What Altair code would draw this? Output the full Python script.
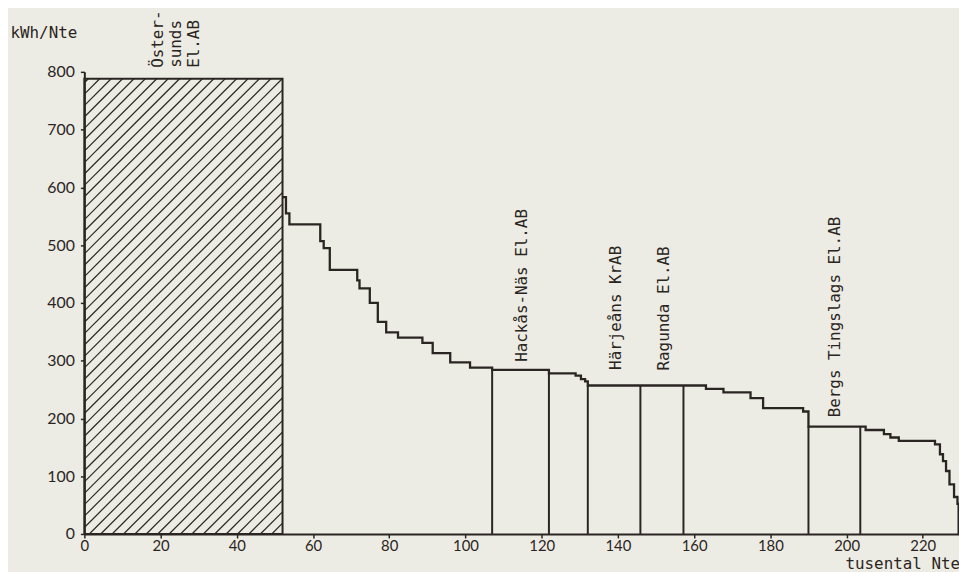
import altair as alt
import pandas as pd
import numpy as np

INK = "#2a2522"
PAPER = "#edece4"
MONO = "DejaVu Sans Mono"

# --- data ---
# Östersunds El.AB (hatched block)
bar_x0 = [0.0]
bar_x1 = [52.0]
bar_top = [788]

# step curve: start of each level (tusental Nte) and its value (kWh/Nte)
step_x = [52.0, 52.9, 53.8, 61.9, 62.8, 64.4, 71.6, 72.2, 74.9, 77.0,
          79.2, 82.3, 88.7, 91.4, 96.0, 101.2, 107.0, 121.9, 128.9, 130.3,
          131.4, 132.1, 163.1, 167.7, 174.8, 178.1, 188.6, 190.0, 205.0, 209.8,
          211.5, 213.7, 223.2, 224.5, 225.3, 226.1, 227.0, 228.2, 229.1, 229.4]
step_y = [583, 555, 536, 507, 495, 457, 439, 425, 400, 367,
          349, 340, 331, 313, 297, 288, 284, 278, 274, 268,
          264, 257, 251, 245, 235, 218, 212, 186, 180, 173,
          167, 161, 155, 138, 126, 109, 86, 64, 52, 0]

# company boundaries (vertical lines)
boundary_x = [107.0, 121.9, 132.1, 145.9, 157.2, 190.0, 203.6]

# company labels
label_text = [["Öster-", "sunds", "El.AB"], "Hackås-Näs El.AB", "Härjeåns KrAB",
              "Ragunda El.AB", "Bergs Tingslags El.AB"]
label_x = [19.3, 114.8, 139.4, 152.0, 197.1]
label_y = [807, 298, 284, 283, 202]

x_ticks = list(range(0, 221, 20))
y_ticks = list(range(0, 801, 100))

XMAX = 229.5
YMAX = 800
W = 882
H = 466

# --- tables ---
steps = pd.DataFrame({"x": step_x, "y": step_y})


def level_at(v):
    lvl = step_y[0]
    for sx, sy in zip(step_x, step_y):
        if sx <= v + 1e-9:
            lvl = sy
    return lvl


bounds = pd.DataFrame({"x": boundary_x, "y0": 0,
                       "y1": [level_at(b) for b in boundary_x]})
bar = pd.DataFrame({"x": bar_x0, "x1": bar_x1, "y0": 0, "y1": bar_top})
labels = pd.DataFrame({"x": label_x, "y": label_y, "t": label_text})

# hatch pattern for the block (45 degrees in screen space)
kx = W / XMAX
ky = H / YMAX
bw = bar_x1[0] * kx
bh = bar_top[0] * ky
segs = []
for c in np.arange(-bh + 4, bw, 11.5):
    ya = max(0.0, -c)
    yb = min(bh, bw - c)
    if yb - ya < 0.5:
        continue
    segs.append({"x": (c + ya) / kx, "x1": (c + yb) / kx,
                 "y": ya / ky, "y1": yb / ky})
hatch = pd.DataFrame(segs)

xaxis = alt.Axis(values=x_ticks, title="tusental Nte", titleAngle=0,
                 titleAlign="left", titleBaseline="alphabetic",
                 titleX=767, titleY=35, labelFlush=False, labelPadding=1,
                 labelFontSize=15)
yaxis = alt.Axis(values=y_ticks, title="kWh/Nte", titleAngle=0,
                 titleAlign="left", titleBaseline="alphabetic",
                 titleX=-75, titleY=-35, labelPadding=6)
xs = alt.Scale(domain=[0, XMAX], nice=False, zero=True)
ys = alt.Scale(domain=[0, YMAX], nice=False)

hatch_layer = alt.Chart(hatch).mark_rule(color=INK, strokeWidth=1.2).encode(
    x=alt.X("x:Q", scale=xs, axis=xaxis), x2="x1:Q",
    y=alt.Y("y:Q", scale=ys, axis=yaxis), y2="y1:Q")

bar_layer = alt.Chart(bar).mark_rect(fillOpacity=0, stroke=INK, strokeWidth=2).encode(
    x=alt.X("x:Q", scale=xs, axis=xaxis), x2="x1:Q",
    y=alt.Y("y0:Q", scale=ys, axis=yaxis), y2="y1:Q")

bound_layer = alt.Chart(bounds).mark_rule(color=INK, strokeWidth=2).encode(
    x=alt.X("x:Q", scale=xs, axis=xaxis),
    y=alt.Y("y0:Q", scale=ys, axis=yaxis), y2="y1:Q")

step_layer = alt.Chart(steps).mark_line(
    interpolate="step-after", color=INK, strokeWidth=2.3, strokeJoin="miter"
).encode(
    x=alt.X("x:Q", scale=xs, axis=xaxis),
    y=alt.Y("y:Q", scale=ys, axis=yaxis))

text_layer = alt.Chart(labels).mark_text(
    angle=270, align="left", baseline="middle", font=MONO, fontSize=16,
    lineHeight=18, color=INK
).encode(
    x=alt.X("x:Q", scale=xs, axis=xaxis),
    y=alt.Y("y:Q", scale=ys, axis=yaxis),
    text="t")

chart = alt.layer(hatch_layer, bar_layer, bound_layer, step_layer, text_layer).properties(
    width=W, height=H,
    autosize=alt.AutoSizeParams(type="none"),
    padding={"left": 77, "top": 62, "right": 0, "bottom": 40},
).configure(background=PAPER).configure_view(stroke="transparent").configure_axis(
    domainColor=INK, domainWidth=2, tickColor=INK, tickWidth=1.5, tickSize=4,
    labelColor=INK, labelFont="Lato", labelFontSize=16, grid=False,
    titleColor=INK, titleFont=MONO, titleFontSize=16, titleFontWeight="normal")

chart.save("out.html", embed_options={"renderer": "svg", "actions": False})
